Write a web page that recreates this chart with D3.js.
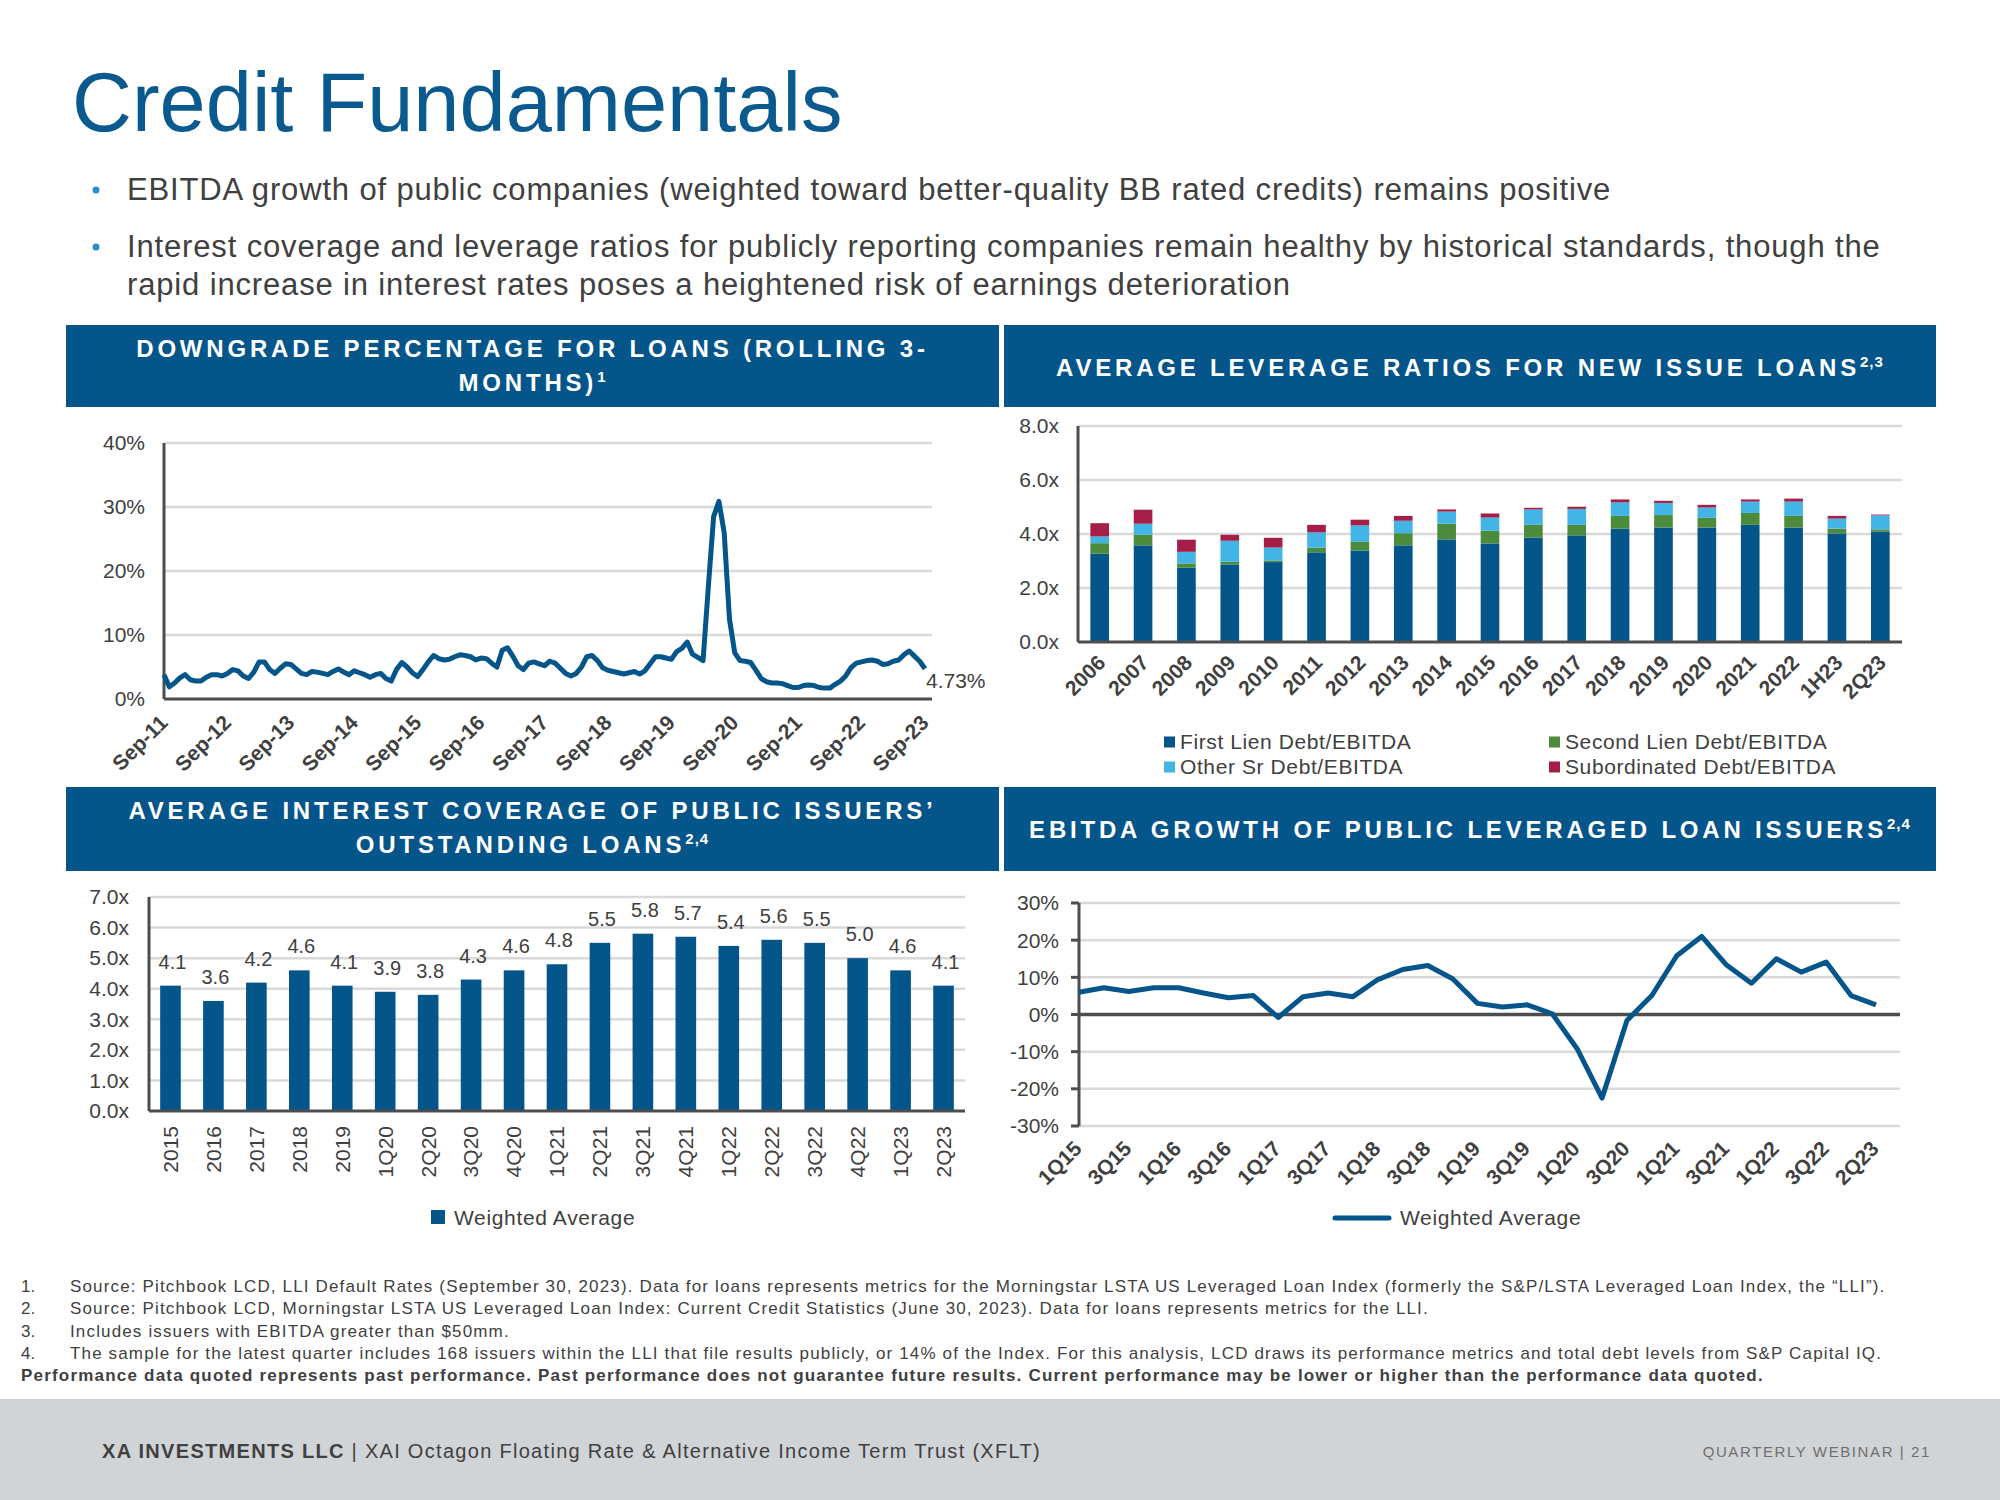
<!DOCTYPE html>
<html>
<head>
<meta charset="utf-8">
<script src="https://cdn.jsdelivr.net/npm/d3@7"></script>
<style>
body { margin: 0; background: #fff; }
svg { display: block; }
</style>
</head>
<body>
<svg width="2000" height="1500"></svg>
<script>
// ---- data ----
// downgrade % (rolling 3 months), monthly Sep-11 .. Sep-23
var downgradePct = [
    3.8,1.9,2.5,3.3,3.8,3.0,2.8,2.8,3.4,3.8,
    3.8,3.6,4.0,4.6,4.4,3.6,3.2,4.2,5.8,5.8,
    4.6,4.0,4.8,5.5,5.4,4.7,4.0,3.8,4.3,4.2,
    4.0,3.8,4.3,4.7,4.2,3.8,4.4,4.1,3.8,3.4,
    3.8,4.0,3.2,2.8,4.6,5.7,5.0,4.1,3.5,4.6,
    5.8,6.8,6.3,6.1,6.2,6.6,6.9,6.8,6.6,6.1,
    6.4,6.3,5.6,5.0,7.6,8.0,6.7,5.2,4.6,5.6,
    5.8,5.5,5.2,5.9,5.6,4.8,4.0,3.6,4.0,5.0,
    6.6,6.8,6.0,4.9,4.5,4.3,4.1,3.9,4.1,4.3,
    3.9,4.4,5.5,6.6,6.6,6.4,6.2,7.4,7.9,8.9,
    7.0,6.5,6.0,17.5,28.5,30.9,26.0,12.5,7.2,6.0,
    5.9,5.7,4.5,3.2,2.7,2.5,2.5,2.4,2.1,1.8,
    1.8,2.1,2.2,2.1,1.8,1.7,1.7,2.3,2.8,3.6,
    4.9,5.6,5.8,6.0,6.1,5.9,5.4,5.5,5.9,6.1,
    6.9,7.5,6.7,5.9,4.73
];
var downgradeXLabels = ["Sep-11","Sep-12","Sep-13","Sep-14","Sep-15","Sep-16","Sep-17",
    "Sep-18","Sep-19","Sep-20","Sep-21","Sep-22","Sep-23"];
var downgradeTicks = [0, 10, 20, 30, 40];

// leverage ratios for new issue loans
var leverageYears = ["2006","2007","2008","2009","2010","2011","2012","2013","2014","2015",
    "2016","2017","2018","2019","2020","2021","2022","1H23","2Q23"];
var firstLien    = [3.27,3.58,2.76,2.87,2.96,3.32,3.39,3.58,3.80,3.65,3.87,3.95,4.20,4.24,4.24,4.34,4.24,4.02,4.09];
var secondLien   = [0.39,0.39,0.15,0.10,0.06,0.17,0.32,0.45,0.58,0.47,0.47,0.39,0.47,0.46,0.36,0.44,0.43,0.18,0.08];
var otherSr      = [0.25,0.41,0.43,0.78,0.48,0.57,0.61,0.46,0.45,0.49,0.57,0.59,0.50,0.45,0.38,0.42,0.53,0.37,0.52];
var subordinated = [0.49,0.52,0.45,0.22,0.36,0.28,0.21,0.18,0.08,0.15,0.06,0.08,0.11,0.08,0.10,0.08,0.11,0.10,0.03];
var leverageTicks = [0, 2, 4, 6, 8];
var leverageSeries = ["First Lien Debt/EBITDA","Second Lien Debt/EBITDA","Other Sr Debt/EBITDA","Subordinated Debt/EBITDA"];

// interest coverage
var coverageCats = ["2015","2016","2017","2018","2019","1Q20","2Q20","3Q20","4Q20","1Q21",
    "2Q21","3Q21","4Q21","1Q22","2Q22","3Q22","4Q22","1Q23","2Q23"];
var coverageVals = [4.1,3.6,4.2,4.6,4.1,3.9,3.8,4.3,4.6,4.8,5.5,5.8,5.7,5.4,5.6,5.5,5.0,4.6,4.1];
var coverageTicks = [0,1,2,3,4,5,6,7];

// EBITDA growth
var ebitdaQuarters = ["1Q15","2Q15","3Q15","4Q15","1Q16","2Q16","3Q16","4Q16","1Q17","2Q17","3Q17","4Q17",
    "1Q18","2Q18","3Q18","4Q18","1Q19","2Q19","3Q19","4Q19","1Q20","2Q20","3Q20","4Q20",
    "1Q21","2Q21","3Q21","4Q21","1Q22","2Q22","3Q22","4Q22","2Q23"];
var ebitdaGrowth = [6.0,7.2,6.2,7.2,7.2,5.8,4.5,5.1,-0.8,4.8,5.8,4.8,9.4,12.1,13.2,9.6,
    3.0,2.0,2.6,0.2,-9.2,-22.5,-1.6,5.1,15.8,21.0,13.3,8.4,15.0,11.4,14.1,5.1,2.6];
var ebitdaTicks = [-30,-20,-10,0,10,20,30];

// ---- styles ----
var FONT = "'Liberation Sans', Arial, Helvetica, sans-serif";
var BLUE = "#04558a";
var TEXT = "#404040";
var AXIS = "#4d4d4d";
var GRID = "#d9d9d9";
var COLORS = [BLUE, "#4b8b3b", "#42b4e6", "#a31f47"];

var svg = d3.select("svg").style("font-family", FONT);

function page(){
    svg.append("text")
        .attr("x", 72).attr("y", 131)
        .attr("font-size", 83).attr("fill", "#0a5a8f")
        .text("Credit Fundamentals");

    let bullets = [
        [200, "EBITDA growth of public companies (weighted toward better-quality BB rated credits) remains positive", true],
        [257, "Interest coverage and leverage ratios for publicly reporting companies remain healthy by historical standards, though the", true],
        [295, "rapid increase in interest rates poses a heightened risk of earnings deterioration", false],
    ];
    bullets.forEach(function(b){
        if(b[2]){
            svg.append("circle").attr("cx", 96).attr("cy", b[0]-10).attr("r", 3.5).attr("fill", "#2b8ccc");
        }
        svg.append("text").attr("x", 127).attr("y", b[0])
            .attr("font-size", 31).attr("letter-spacing", 0.85).attr("fill", TEXT).text(b[1]);
    });

    header(66, 325, 933, 82, [[357, "DOWNGRADE PERCENTAGE FOR LOANS (ROLLING 3-", ""], [391, "MONTHS)", "1"]]);
    header(1004, 325, 932, 82, [[376, "AVERAGE LEVERAGE RATIOS FOR NEW ISSUE LOANS", "2,3"]]);
    header(66, 787, 933, 84, [[819, "AVERAGE INTEREST COVERAGE OF PUBLIC ISSUERS\u2019", ""], [853, "OUTSTANDING LOANS", "2,4"]]);
    header(1004, 787, 932, 84, [[838, "EBITDA GROWTH OF PUBLIC LEVERAGED LOAN ISSUERS", "2,4"]]);

    // footnotes
    let notes = [
        ["1.", "Source: Pitchbook LCD, LLI Default Rates (September 30, 2023). Data for loans represents metrics for the Morningstar LSTA US Leveraged Loan Index (formerly the S&P/LSTA Leveraged Loan Index, the \u201cLLI\u201d)."],
        ["2.", "Source: Pitchbook LCD, Morningstar LSTA US Leveraged Loan Index: Current Credit Statistics (June 30, 2023). Data for loans represents metrics for the LLI."],
        ["3.", "Includes issuers with EBITDA greater than $50mm."],
        ["4.", "The sample for the latest quarter includes 168 issuers within the LLI that file results publicly, or 14% of the Index. For this analysis, LCD draws its performance metrics and total debt levels from S&P Capital IQ."],
    ];
    notes.forEach(function(n, i){
        let y = 1292 + i*22.3;
        svg.append("text").attr("x", 21).attr("y", y).attr("font-size", 17).attr("fill", TEXT).text(n[0]);
        svg.append("text").attr("x", 70).attr("y", y).attr("font-size", 17).attr("letter-spacing", 1.15)
            .attr("fill", TEXT).text(n[1]);
    });
    svg.append("text").attr("x", 21).attr("y", 1381).attr("font-size", 17).attr("font-weight", "bold")
        .attr("letter-spacing", 1.2).attr("fill", TEXT)
        .text("Performance data quoted represents past performance. Past performance does not guarantee future results. Current performance may be lower or higher than the performance data quoted.");

    // footer
    svg.append("rect").attr("x", 0).attr("y", 1399).attr("width", 2000).attr("height", 101).attr("fill", "#d1d4d7");
    let ft = svg.append("text").attr("x", 102).attr("y", 1458).attr("font-size", 20)
        .attr("letter-spacing", 1.3).attr("fill", TEXT);
    ft.append("tspan").attr("font-weight", "bold").text("XA INVESTMENTS LLC");
    ft.append("tspan").text(" | XAI Octagon Floating Rate & Alternative Income Term Trust (XFLT)");
    svg.append("text").attr("x", 1931).attr("y", 1457).attr("font-size", 15).attr("letter-spacing", 1.6)
        .attr("fill", "#6f6f6f")
        .attr("text-anchor", "end").text("QUARTERLY WEBINAR  |  21");
}

function header(x, y, w, h, lines){
    svg.append("rect").attr("x", x).attr("y", y).attr("width", w).attr("height", h).attr("fill", BLUE);
    lines.forEach(function(l){
        let t = svg.append("text").attr("x", x + w/2).attr("y", l[0])
            .attr("text-anchor", "middle").attr("font-size", 24).attr("font-weight", "bold")
            .attr("letter-spacing", 3.8).attr("fill", "#fff");
        t.append("tspan").text(l[1]);
        if(l[2]){
            t.append("tspan").attr("font-size", 15).attr("dy", -9).attr("letter-spacing", 1).text(l[2]);
        }
    });
}

// grid + y tick labels helper
function yGrid(g, y, ticks, x0, x1, fmt, labelX, gridFrom){
    g.selectAll(".grid").data(ticks.filter(d => d !== gridFrom)).enter().append("line")
        .attr("x1", x0).attr("x2", x1)
        .attr("y1", d => y(d)).attr("y2", d => y(d))
        .attr("stroke", GRID).attr("stroke-width", 2.5);
    g.selectAll(".ylab").data(ticks).enter().append("text")
        .attr("x", labelX).attr("y", d => y(d)).attr("dy", "0.35em")
        .attr("text-anchor", "end").attr("font-size", 21).attr("fill", TEXT)
        .text(fmt);
}

function drawDowngrade(){
    let g = svg.append("g");
    let x = d3.scaleLinear().domain([0, downgradePct.length - 1]).range([164, 925]);
    let y = d3.scaleLinear().domain([0, 40]).range([699, 443]);
    yGrid(g, y, downgradeTicks, 164, 932, d => d + "%", 145, 0);
    g.append("line").attr("x1", 164).attr("x2", 164).attr("y1", y(40)).attr("y2", y(0))
        .attr("stroke", AXIS).attr("stroke-width", 3);
    g.append("line").attr("x1", 164).attr("x2", 932).attr("y1", y(0)).attr("y2", y(0))
        .attr("stroke", AXIS).attr("stroke-width", 3);

    g.selectAll(".xlab").data(downgradeXLabels).enter().append("text")
        .attr("transform", (d, i) => "translate(" + (x(i*12) + 5) + ",724) rotate(-45)")
        .attr("text-anchor", "end").attr("font-size", 21).attr("font-weight", "bold").attr("fill", TEXT)
        .text(d => d);

    g.append("path").datum(downgradePct)
        .attr("d", d3.line().x((d, i) => x(i)).y(d => y(d)))
        .attr("fill", "none").attr("stroke", BLUE).attr("stroke-width", 5)
        .attr("stroke-linejoin", "round");

    let last = downgradePct.length - 1;
    g.append("text").attr("x", x(last) + 1).attr("y", y(downgradePct[last]) + 19)
        .attr("font-size", 21).attr("fill", TEXT)
        .text(downgradePct[last].toFixed(2) + "%");
}

function drawLeverage(){
    let g = svg.append("g");
    let x = d3.scaleBand().domain(leverageYears).range([1078, 1902]).paddingInner(0.57).paddingOuter(0.285);
    let y = d3.scaleLinear().domain([0, 8]).range([642, 426]);
    yGrid(g, y, leverageTicks, 1078, 1902, d => d.toFixed(1) + "x", 1059, 0);

    let table = leverageYears.map(function(yr, i){
        return {year: yr, s0: firstLien[i], s1: secondLien[i], s2: otherSr[i], s3: subordinated[i]};
    });
    let stacked = d3.stack().keys(["s0","s1","s2","s3"])(table);
    g.selectAll(".layer").data(stacked).enter().append("g")
        .attr("fill", (d, i) => COLORS[i])
        .selectAll("rect").data(d => d).enter().append("rect")
        .attr("x", d => x(d.data.year))
        .attr("width", x.bandwidth())
        .attr("y", d => y(d[1]))
        .attr("height", d => y(d[0]) - y(d[1]));

    g.append("line").attr("x1", 1078).attr("x2", 1078).attr("y1", y(8)).attr("y2", y(0))
        .attr("stroke", AXIS).attr("stroke-width", 3);
    g.append("line").attr("x1", 1078).attr("x2", 1902).attr("y1", y(0)).attr("y2", y(0))
        .attr("stroke", AXIS).attr("stroke-width", 3);

    g.selectAll(".xlab").data(leverageYears).enter().append("text")
        .attr("transform", d => "translate(" + (x(d) + x.bandwidth()/2 + 7) + ",664) rotate(-45)")
        .attr("text-anchor", "end").attr("font-size", 21).attr("font-weight", "bold").attr("fill", TEXT)
        .text(d => d);

    // legend: first, second (row 1), other, subordinated (row 2)
    let lg = g.selectAll(".leg").data(leverageSeries).enter().append("g")
        .attr("transform", (d, i) => "translate(" + (i % 2 === 0 ? 1164 : 1549) + "," + (i < 2 ? 742 : 767) + ")");
    lg.append("rect").attr("x", 0).attr("y", -5.5).attr("width", 11).attr("height", 11)
        .attr("fill", (d, i) => COLORS[i]);
    lg.append("text").attr("x", 16).attr("y", 0).attr("dy", "0.35em")
        .attr("font-size", 21).attr("letter-spacing", 0.6).attr("fill", TEXT).text(d => d);
}

function drawCoverage(){
    let g = svg.append("g");
    let x = d3.scaleBand().domain(coverageCats).range([149, 965]).paddingInner(0.52).paddingOuter(0.26);
    let y = d3.scaleLinear().domain([0, 7]).range([1111, 897]);
    yGrid(g, y, coverageTicks, 149, 965, d => d.toFixed(1) + "x", 129, 0);

    g.selectAll(".bar").data(coverageVals).enter().append("rect")
        .attr("x", (d, i) => x(coverageCats[i]))
        .attr("width", x.bandwidth())
        .attr("y", d => y(d))
        .attr("height", d => y(0) - y(d))
        .attr("fill", BLUE);
    g.selectAll(".val").data(coverageVals).enter().append("text")
        .attr("x", (d, i) => x(coverageCats[i]) + x.bandwidth()/2 + 2)
        .attr("y", d => y(d) - 17)
        .attr("text-anchor", "middle").attr("font-size", 20).attr("fill", TEXT)
        .text(d => d.toFixed(1));

    g.append("line").attr("x1", 149).attr("x2", 149).attr("y1", y(7)).attr("y2", y(0))
        .attr("stroke", AXIS).attr("stroke-width", 3);
    g.append("line").attr("x1", 149).attr("x2", 965).attr("y1", y(0)).attr("y2", y(0))
        .attr("stroke", AXIS).attr("stroke-width", 3);

    g.selectAll(".xlab").data(coverageCats).enter().append("text")
        .attr("transform", d => "translate(" + (x(d) + x.bandwidth()/2) + ",1126) rotate(-90)")
        .attr("text-anchor", "end").attr("dy", "0.35em").attr("font-size", 21).attr("fill", TEXT)
        .text(d => d);

    g.append("rect").attr("x", 431).attr("y", 1210).attr("width", 14).attr("height", 14).attr("fill", BLUE);
    g.append("text").attr("x", 454).attr("y", 1225).attr("font-size", 21).attr("letter-spacing", 0.65)
        .attr("fill", TEXT).text("Weighted Average");
}

function drawEbitda(){
    let g = svg.append("g");
    let x = d3.scalePoint().domain(ebitdaQuarters).range([1079, 1876]);
    let y = d3.scaleLinear().domain([-30, 30]).range([1126, 903]);
    yGrid(g, y, ebitdaTicks, 1079, 1900, d => d + "%", 1059, 0);

    g.selectAll(".tick").data(ebitdaTicks).enter().append("line")
        .attr("x1", 1071).attr("x2", 1079).attr("y1", d => y(d)).attr("y2", d => y(d))
        .attr("stroke", AXIS).attr("stroke-width", 3);
    g.append("line").attr("x1", 1079).attr("x2", 1079).attr("y1", y(30)).attr("y2", y(-30))
        .attr("stroke", AXIS).attr("stroke-width", 3);
    g.append("line").attr("x1", 1079).attr("x2", 1900).attr("y1", y(0)).attr("y2", y(0))
        .attr("stroke", AXIS).attr("stroke-width", 3.5);

    g.selectAll(".xlab").data(ebitdaQuarters.filter((d, i) => i % 2 === 0)).enter().append("text")
        .attr("transform", d => "translate(" + (x(d) + 4) + ",1150) rotate(-45)")
        .attr("text-anchor", "end").attr("font-size", 21).attr("font-weight", "bold").attr("fill", TEXT)
        .text(d => d);

    g.append("path").datum(ebitdaGrowth)
        .attr("d", d3.line().x((d, i) => x(ebitdaQuarters[i])).y(d => y(d)))
        .attr("fill", "none").attr("stroke", BLUE).attr("stroke-width", 5)
        .attr("stroke-linejoin", "round");

    g.append("line").attr("x1", 1335).attr("x2", 1389).attr("y1", 1218).attr("y2", 1218)
        .attr("stroke", BLUE).attr("stroke-width", 5).attr("stroke-linecap", "round");
    g.append("text").attr("x", 1400).attr("y", 1225).attr("font-size", 21).attr("letter-spacing", 0.65)
        .attr("fill", TEXT).text("Weighted Average");
}

page();
drawDowngrade();
drawLeverage();
drawCoverage();
drawEbitda();
</script>
</body>
</html>
